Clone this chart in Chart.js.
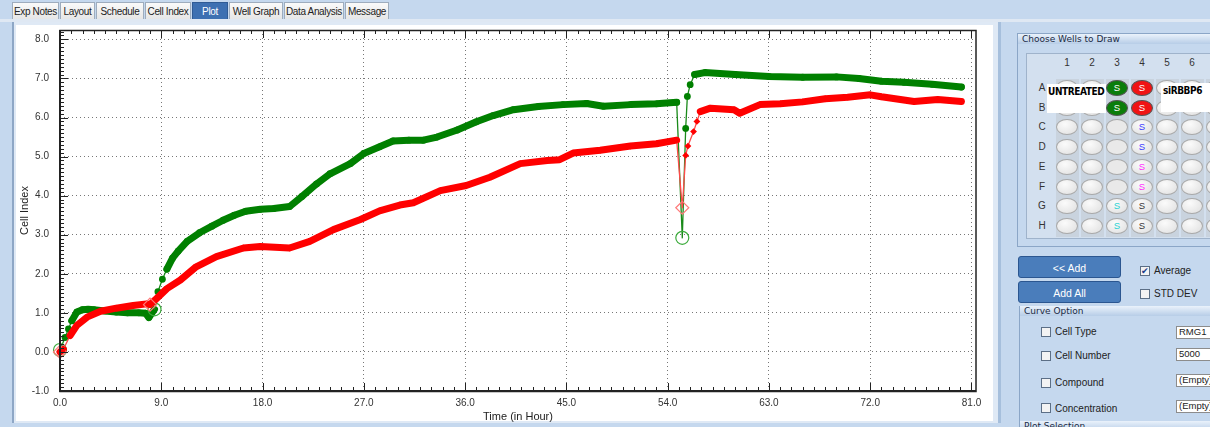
<!DOCTYPE html>
<html>
<head>
<meta charset="utf-8">
<script src="https://cdn.jsdelivr.net/npm/chart.js@4.4.1/dist/chart.umd.min.js"></script>
<style>
  body { margin: 0; width: 1210px; height: 427px; background: #c5d8ee; overflow: hidden; position: relative;
         font-family: "Liberation Sans", Arial, sans-serif; }
  .tab { position: absolute; top: 2px; height: 17px; line-height: 17px; font-size: 10px; color: #222;
         background: linear-gradient(#fafafa, #e6e6e6); border: 1px solid #9eacbd; border-bottom: none;
         text-align: center; box-sizing: border-box; white-space: nowrap; overflow: hidden; letter-spacing: -0.35px; }
  .tab.on { background: #3d70b2; color: #fff; border-color: #2f5b95; }
  #tabline { position: absolute; left: 0; top: 19px; width: 1210px; height: 3px; background: #dfe8f3; }
  #panel { position: absolute; left: 12px; top: 22px; width: 984px; height: 401px; background: #dfe9f5;
           border-left: 2px solid #8ea7c6; border-right: 3px solid #a6bfdc; }
  #inner { position: absolute; left: 16px; top: 25px; width: 977px; height: 396px; background: #fff; }
  #wrap { position: absolute; left: 16px; top: 13px; width: 977px; height: 415px; }
  .grp { position: absolute; border: 1px solid #8ba6c7; box-sizing: border-box; }
  .gtitle { position: absolute; left: 0; height: 10px; line-height: 10px; font-size: 9px; color: #1b2b44;
            background: linear-gradient(#eaf2fb, #b7cde7); padding-left: 4px; box-sizing: border-box;
            font-family: "DejaVu Sans", sans-serif; white-space: nowrap; }
  #plate { position: absolute; left: 1026px; top: 53px; width: 190px; height: 186px; background: #d3e0ef;
           border: 1px solid #9fb3cb; box-sizing: border-box; }
  .lbl { position: absolute; font-size: 10px; color: #333; width: 12px; text-align: center; }
  .well { position: absolute; width: 22px; height: 16px; border-radius: 50%; box-sizing: border-box;
          border: 1px solid #a9a9a9; background: radial-gradient(ellipse at 40% 30%, #fbfbfb, #dedede);
          font-size: 9.5px; line-height: 14px; text-align: center; }
  .stripe { position: absolute; width: 23px; top: 79px; height: 158px; background: #c9d3de; }
  .note { position: absolute; background: #fff; font-family: "DejaVu Sans Condensed", "DejaVu Sans", sans-serif;
          font-weight: bold; font-size: 10px; color: #000; white-space: nowrap; letter-spacing: -0.4px; }
  .btn { position: absolute; left: 1018px; width: 103px; height: 22px; border-radius: 3px; background: #4a7dbb;
         border: 1px solid #2b5690; color: #fff; font-size: 10.5px; text-align: center; line-height: 22px;
         box-sizing: border-box; }
  .chk { position: absolute; width: 10px; height: 10px; border: 1px solid #5c6f86; background: #f3f3f3; box-sizing: border-box; }
  .txt { position: absolute; font-size: 10px; color: #222; white-space: nowrap; }
  .inp { position: absolute; left: 1176px; width: 40px; height: 11px; background: #fff; border: 1px solid #8c8c8c;
         font-size: 9.5px; line-height: 10px; padding-left: 2px; color: #222; white-space: nowrap; }
</style>
</head>
<body>
<div id="tabline"></div>
<div class="tab" style="left:12px;width:47px">Exp Notes</div>
<div class="tab" style="left:60px;width:35px">Layout</div>
<div class="tab" style="left:96px;width:48px">Schedule</div>
<div class="tab" style="left:145px;width:46px">Cell Index</div>
<div class="tab on" style="left:192px;width:36px">Plot</div>
<div class="tab" style="left:229px;width:54px">Well Graph</div>
<div class="tab" style="left:284px;width:60px">Data Analysis</div>
<div class="tab" style="left:345px;width:44px">Message</div>

<div id="panel"></div>
<div id="inner"></div>
<div id="wrap"><canvas id="myChart" width="977" height="415"></canvas></div>

<div class="grp" style="left:1017px;top:33px;width:200px;height:214px"></div>
<div class="gtitle" style="left:1018px;top:34px;width:200px">Choose Wells to Draw</div>
<div id="plate"></div>
<div id="wells"></div>
<div class="note" style="left:1047px;top:84px;width:58px;height:29px;line-height:16px;padding-left:1px">UNTREATED</div>
<div class="note" style="left:1161px;top:83px;width:49px;height:29px;line-height:16px;padding-left:2px">siRBBP6</div>

<div class="btn" style="top:256px">&lt;&lt; Add</div>
<div class="btn" style="top:281px">Add All</div>
<div class="chk" style="left:1140px;top:266px;font-size:9px;line-height:8px;color:#1c3f8c;text-align:center">&#10004;</div>
<div class="txt" style="left:1154px;top:265px">Average</div>
<div class="chk" style="left:1140px;top:289px"></div>
<div class="txt" style="left:1154px;top:288px">STD DEV</div>

<div class="grp" style="left:1019px;top:306px;width:200px;height:130px"></div>
<div class="gtitle" style="left:1020px;top:306px;width:200px">Curve Option</div>
<div class="chk" style="left:1041px;top:327px"></div><div class="txt" style="left:1055px;top:326px">Cell Type</div>
<div class="chk" style="left:1041px;top:351px"></div><div class="txt" style="left:1055px;top:350px">Cell Number</div>
<div class="chk" style="left:1041px;top:378px"></div><div class="txt" style="left:1055px;top:377px">Compound</div>
<div class="chk" style="left:1041px;top:403px"></div><div class="txt" style="left:1055px;top:403px">Concentration</div>
<div class="inp" style="top:326px">RMG1</div>
<div class="inp" style="top:348px">5000</div>
<div class="inp" style="top:374px">(Empty)</div>
<div class="inp" style="top:400px">(Empty)</div>
<div class="gtitle" style="left:1020px;top:421px;width:200px">Plot Selection</div>

<script>
// Cell Index (averaged wells)
const untreatedHours = [0, 0.45, 0.75, 1.05, 1.5, 2.0, 2.5, 3.0, 4.0, 5.0, 6.0, 7.0, 7.6, 7.9, 8.4,
    8.7, 9.1, 9.5, 10.0, 10.5, 11.3, 12.4, 13.5, 14.5, 15.5, 16.5, 17.8, 19.0, 20.4, 21.5,
    22.8, 24.0, 25.8, 27.0, 28.4, 29.6, 31.0, 32.3, 33.5, 35.3, 37.0, 38.5, 40.3, 42.5, 44.7,
    46.8, 48.3, 50.7, 53.0, 54.8, 55.3, 55.6, 55.75, 56.0, 56.4, 57.3, 60.0, 63.0, 66.0, 69.0,
    71.0, 73.0, 75.0, 77.5, 80.1];
const untreatedCI = [0.05, 0.37, 0.59, 0.80, 1.02, 1.08, 1.09, 1.08, 1.05, 1.02, 1.0, 1.0, 0.99, 0.88, 1.09,
    1.54, 1.86, 2.12, 2.40, 2.58, 2.83, 3.05, 3.22, 3.37, 3.50, 3.60, 3.65, 3.67, 3.72, 3.98,
    4.30, 4.56, 4.82, 5.08, 5.25, 5.40, 5.42, 5.42, 5.50, 5.68, 5.89, 6.05, 6.20, 6.28, 6.33,
    6.36, 6.29, 6.33, 6.35, 6.39, 2.92, 5.72, 6.54, 6.84, 7.10, 7.15, 7.10, 7.05, 7.03, 7.04,
    7.00, 6.93, 6.90, 6.85, 6.78];
const untreatedOpen = [0, 8.4, 55.3];

const siRBBP6Hours = [0, 0.3, 0.9, 1.5, 2.4, 3.6, 5.0, 6.5, 7.7, 8.0, 8.6, 9.5, 10.7, 12.1, 13.9,
    16.3, 17.8, 20.4, 22.2, 24.3, 26.7, 28.4, 30.2, 31.4, 33.8, 36.1, 38.2, 40.9, 43.3, 44.4,
    45.6, 48.0, 50.7, 53.0, 54.8, 55.3, 55.6, 55.8, 56.3, 56.6, 56.9, 57.8, 59.9, 60.4, 62.2,
    64.0, 66.0, 68.0, 70.0, 72.0, 73.0, 75.9, 78.0, 80.1];
const siRBBP6CI = [0.0, 0.07, 0.42, 0.68, 0.89, 1.04, 1.12, 1.19, 1.23, 1.21, 1.37, 1.62, 1.84, 2.18, 2.44,
    2.66, 2.70, 2.66, 2.83, 3.13, 3.39, 3.61, 3.76, 3.82, 4.13, 4.26, 4.47, 4.82, 4.90, 4.92,
    5.09, 5.16, 5.27, 5.33, 5.42, 3.69, 5.03, 5.27, 5.64, 5.90, 6.15, 6.24, 6.20, 6.11, 6.33,
    6.35, 6.40, 6.48, 6.52, 6.58, 6.53, 6.41, 6.46, 6.41];
const siRBBP6Open = [0, 8.0, 55.3];

const xTicks = [0, 9, 18, 27, 36, 45, 54, 63, 72, 81];
const yTicks = [-1, 0, 1, 2, 3, 4, 5, 6, 7, 8];

// plate layout: well -> [fill, letter colour]
const wellMarks = {
    A3: ['#0b7d0b', '#fff'], B3: ['#0b7d0b', '#fff'], A4: ['#f01414', '#fff'], B4: ['#f01414', '#fff'],
    C3: [null, null], D3: [null, null], E3: [null, null], F3: [null, null],
    C4: [null, '#3a3aff'], D4: [null, '#3a3aff'], E4: [null, '#ff2bff'], F4: [null, '#ff2bff'],
    G3: [null, '#27d3d3'], H3: [null, '#27d3d3'], G4: [null, '#333'], H4: [null, '#333']
};

const rows = 'ABCDEFGH';
let html = '';
for (let c = 1; c <= 7; c++) {
    const cx = 1067 + 25 * (c - 1);
    html += `<div class="stripe" style="left:${cx - 11}px"></div>`;
    html += `<div class="lbl" style="left:${cx - 6}px;top:57px">${c}</div>`;
}
for (let r = 0; r < 8; r++) {
    const cy = 88 + 19.7 * r;
    html += `<div class="lbl" style="left:1036px;top:${cy - 6}px">${rows[r]}</div>`;
    for (let c = 1; c <= 7; c++) {
        const cx = 1067 + 25 * (c - 1);
        const m = wellMarks[rows[r] + c];
        let style = `left:${cx - 11}px;top:${cy - 8}px;`;
        let inner = '';
        if (m) {
            if (m[0]) style += `background:${m[0]};border-color:#555;`;
            else if (!m[1]) style += 'background:#e9e9e9;';
            if (m[1]) { style += `color:${m[1]};`; inner = 'S'; }
        }
        html += `<div class="well" style="${style}">${inner}</div>`;
    }
}
document.getElementById('wells').innerHTML = html;

function toPoints(hours, ci) {
    return hours.map((h, i) => ({x: h, y: ci[i]}));
}

// dense readings show as a thick band, steep jumps as a thin joining line
function bandWidth(ctx) {
    const dx = Math.abs(ctx.p1.x - ctx.p0.x), dy = Math.abs(ctx.p1.y - ctx.p0.y);
    return dy > 2 * dx ? 1.3 : 7;
}

function series(label, hours, ci, open, color, thinColor, openColor, shape) {
    const isOpen = (c) => open.includes(hours[c.dataIndex]);
    return {
        label: label,
        data: toPoints(hours, ci),
        showLine: true,
        clip: false,
        borderColor: color,
        borderWidth: 7,
        borderJoinStyle: 'round',
        borderCapStyle: 'round',
        segment: {
            borderWidth: bandWidth,
            borderColor: c => bandWidth(c) < 2 ? thinColor : color
        },
        pointStyle: shape,
        pointRadius: c => isOpen(c) ? 6.5 : 3.4,
        pointBackgroundColor: c => isOpen(c) ? 'rgba(255,255,255,0)' : color,
        pointBorderColor: c => isOpen(c) ? openColor : color,
        pointBorderWidth: c => isOpen(c) ? 1.2 : 0
    };
}

const frameTicks = {
    id: 'frameTicks',
    afterDraw(chart) {
        const {ctx, chartArea: a} = chart;
        const xs = chart.scales.x, ys = chart.scales.y;
        ctx.save();
        ctx.strokeStyle = '#222';
        ctx.lineWidth = 1;
        ctx.beginPath();
        for (let i = -10; i <= 82; i++) {
            const py = Math.round(ys.getPixelForValue(i / 10)) + 0.5;
            const len = i % 10 === 0 ? 8 : 4;
            ctx.moveTo(a.left, py); ctx.lineTo(a.left + len, py);
        }
        for (let h = 0; h <= 81; h++) {
            const px = Math.round(xs.getPixelForValue(h)) + 0.5;
            const len = h % 9 === 0 ? 8 : 4;
            ctx.moveTo(px, a.bottom); ctx.lineTo(px, a.bottom - len);
            ctx.moveTo(px, a.top); ctx.lineTo(px, a.top + len);
        }
        ctx.stroke();
        ctx.lineWidth = 1.5;
        ctx.strokeRect(a.left, a.top + 0.5, a.right - a.left, a.bottom - a.top);
        ctx.lineWidth = 2;
        ctx.beginPath();
        ctx.moveTo(a.left, a.top); ctx.lineTo(a.left, a.bottom);
        ctx.lineTo(a.right, a.bottom);
        ctx.stroke();
        ctx.restore();
    }
};

const tickFont = {family: '"Liberation Sans", Arial, sans-serif', size: 10};
const titleFont = {family: '"Liberation Sans", Arial, sans-serif', size: 11};

new Chart(document.getElementById('myChart'), {
    type: 'scatter',
    plugins: [frameTicks],
    data: {
        datasets: [
            series('siRBBP6', siRBBP6Hours, siRBBP6CI, siRBBP6Open, '#ff0000', '#ff4a4a', '#ff7a7a', 'rectRot'),
            series('UNTREATED', untreatedHours, untreatedCI, untreatedOpen, '#008000', '#1a8a1a', '#3cab3c', 'circle')
        ]
    },
    options: {
        responsive: false,
        animation: false,
        layout: {padding: {top: 6, right: 17, left: 0, bottom: 0}},
        plugins: {legend: {display: false}, tooltip: {enabled: false}},
        scales: {
            x: {
                type: 'linear', min: 0, max: 81.4,
                afterBuildTicks: s => { s.ticks = xTicks.map(v => ({value: v})); },
                afterFit: s => { s.height = 37; },
                ticks: {autoSkip: false, maxRotation: 0, padding: 6, color: '#333', font: tickFont,
                        callback: v => v.toFixed(1)},
                grid: {color: '#777', lineWidth: 1, drawTicks: false},
                border: {display: false, dash: [1, 3]},
                title: {display: true, text: 'Time (in Hour)', color: '#222', font: titleFont,
                        padding: {top: 0, bottom: 4}}
            },
            y: {
                type: 'linear', min: -1, max: 8.24,
                afterBuildTicks: s => { s.ticks = yTicks.map(v => ({value: v})); },
                afterFit: s => { s.width = 44; },
                ticks: {autoSkip: false, padding: 11, color: '#333', font: tickFont,
                        callback: v => v.toFixed(1)},
                grid: {color: '#777', lineWidth: 1, drawTicks: false},
                border: {display: false, dash: [1, 3]},
                title: {display: true, text: 'Cell Index', color: '#222', font: titleFont,
                        padding: {top: 2.4, bottom: 0}}
            }
        }
    }
});
</script>
</body>
</html>
